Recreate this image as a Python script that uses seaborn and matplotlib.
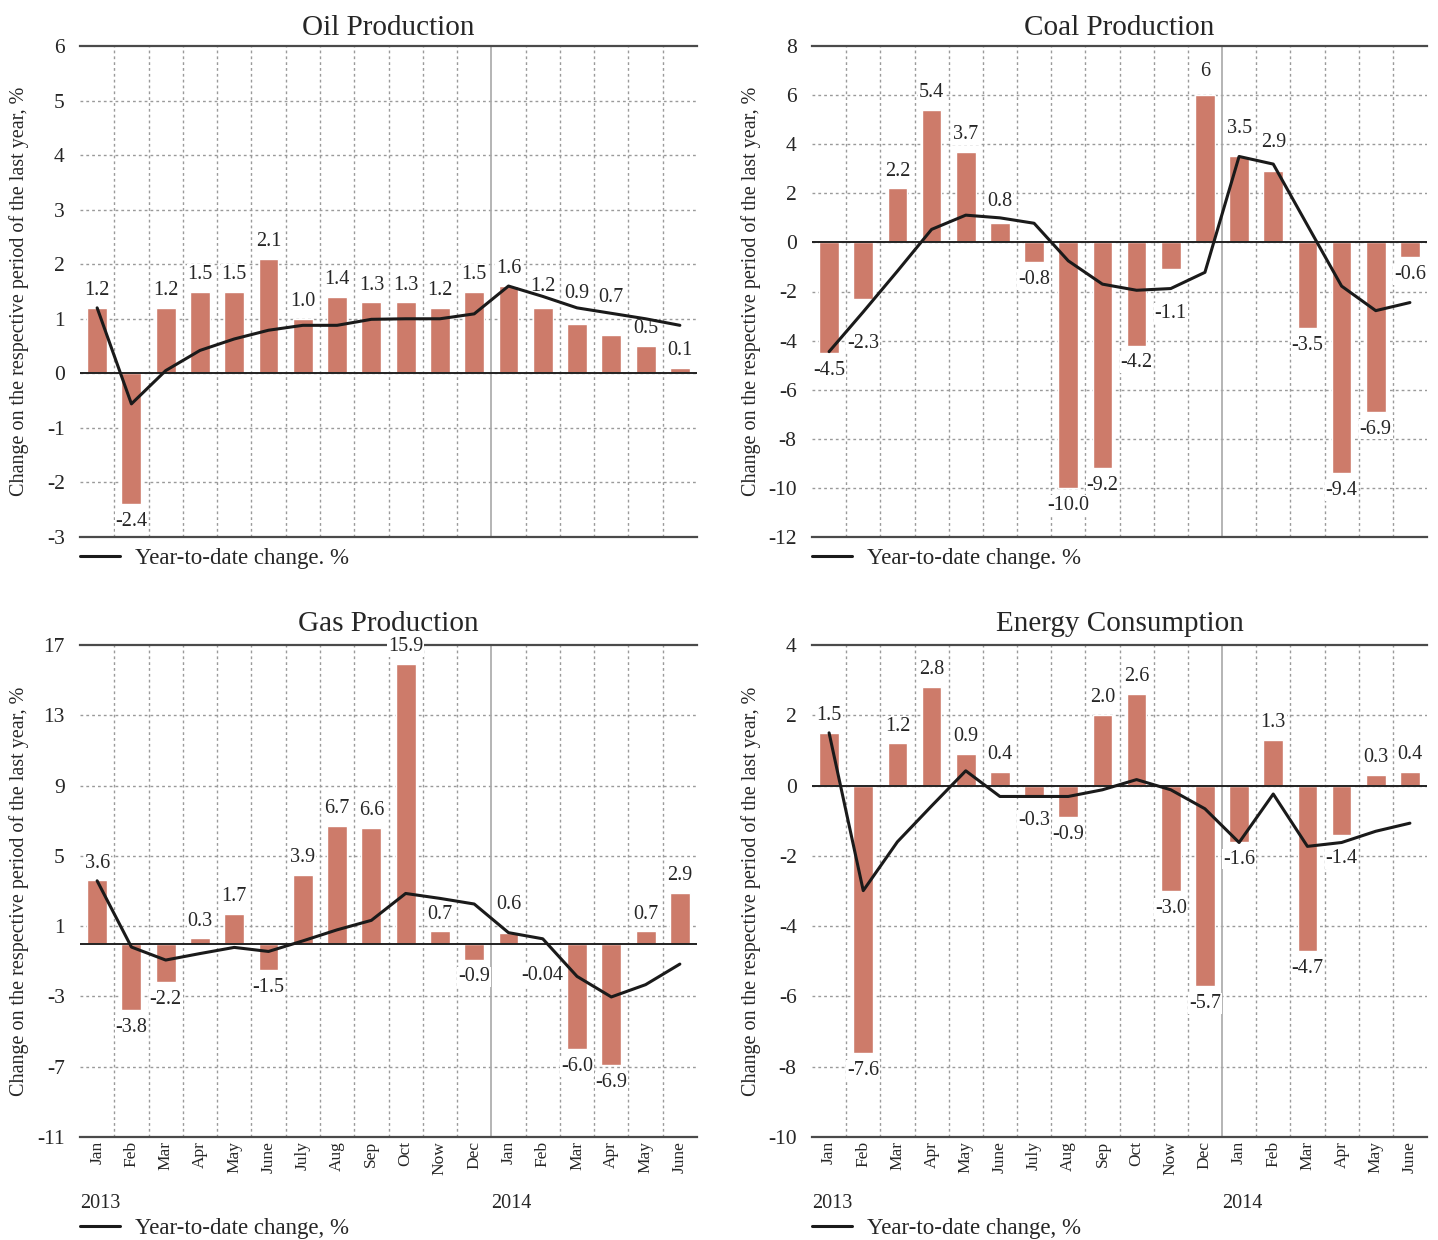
import numpy as np
import matplotlib
matplotlib.use("Agg")
import matplotlib.pyplot as plt
import matplotlib.transforms as mtransforms
import seaborn as sns

sns.set_theme(style="white")
plt.rcParams['font.family'] = ['Liberation Serif', 'DejaVu Serif']

months = ['Jan', 'Feb', 'Mar', 'Apr', 'May', 'June', 'July', 'Aug', 'Sep', 'Oct', 'Now', 'Dec',
          'Jan', 'Feb', 'Mar', 'Apr', 'May', 'June']

oil_bars = [1.2, -2.4, 1.2, 1.5, 1.5, 2.1, 1.0, 1.4, 1.3, 1.3, 1.2, 1.5, 1.6, 1.2, 0.9, 0.7, 0.5, 0.1]
oil_ytd = [1.2, -0.56, 0.05, 0.42, 0.63, 0.79, 0.88, 0.88, 0.99, 1.0, 1.0, 1.09, 1.6, 1.41, 1.2, 1.1, 1.0, 0.88]

coal_bars = [-4.5, -2.3, 2.2, 5.4, 3.7, 0.8, -0.8, -10.0, -9.2, -4.2, -1.1, 6, 3.5, 2.9, -3.5, -9.4, -6.9, -0.6]
coal_ytd = [-4.45, -2.83, -1.17, 0.53, 1.11, 1.0, 0.78, -0.75, -1.7, -1.95, -1.88, -1.22, 3.5, 3.19, 0.7, -1.78, -2.78, -2.45]

gas_bars = [3.6, -3.8, -2.2, 0.3, 1.7, -1.5, 3.9, 6.7, 6.6, 15.9, 0.7, -0.9, 0.6, -0.04, -6.0, -6.9, 0.7, 2.9]
gas_ytd = [3.58, -0.19, -0.93, -0.56, -0.21, -0.44, 0.16, 0.79, 1.33, 2.86, 2.58, 2.26, 0.63, 0.28, -1.86, -3.03, -2.33, -1.16]

energy_bars = [1.5, -7.6, 1.2, 2.8, 0.9, 0.4, -0.3, -0.9, 2.0, 2.6, -3.0, -5.7, -1.6, 1.3, -4.7, -1.4, 0.3, 0.4]
energy_ytd = [1.5, -2.99, -1.6, -0.58, 0.42, -0.31, -0.31, -0.31, -0.12, 0.17, -0.12, -0.66, -1.62, -0.24, -1.73, -1.62, -1.3, -1.07]

bar_labels = {
    'oil': ['1.2', '-2.4', '1.2', '1.5', '1.5', '2.1', '1.0', '1.4', '1.3', '1.3', '1.2', '1.5',
            '1.6', '1.2', '0.9', '0.7', '0.5', '0.1'],
    'coal': ['-4.5', '-2.3', '2.2', '5.4', '3.7', '0.8', '-0.8', '-10.0', '-9.2', '-4.2', '-1.1', '6',
             '3.5', '2.9', '-3.5', '-9.4', '-6.9', '-0.6'],
    'gas': ['3.6', '-3.8', '-2.2', '0.3', '1.7', '-1.5', '3.9', '6.7', '6.6', '15.9', '0.7', '-0.9',
            '0.6', '-0.04', '-6.0', '-6.9', '0.7', '2.9'],
    'energy': ['1.5', '-7.6', '1.2', '2.8', '0.9', '0.4', '-0.3', '-0.9', '2.0', '2.6', '-3.0', '-5.7',
               '-1.6', '1.3', '-4.7', '-1.4', '0.3', '0.4'],
}

# labels that were moved off the bar end to dodge the line (data units, label centre)
label_moves = {
    'oil': {13: 1.6, 14: 1.46, 15: 1.39},
    'coal': {1: -4.1, 5: 1.68, 10: -2.9, 11: 6.95, 12: 4.65, 13: 4.05},
    'gas': {12: 2.26, 13: -1.82},
    'energy': {6: -0.98, 15: -2.08},
}

bar_color = '#cd7b6a'
grid_kw = dict(color='#9a9a9a', linestyle=(0, (2, 2.2)), linewidth=1.0, zorder=0)

fig = plt.figure(figsize=(14.38, 12.4), dpi=100)
W, H = 1438, 1240


def make_ax(x0, x1, y0, y1):
    return fig.add_axes([x0 / W, 1 - y1 / H, (x1 - x0) / W, (y1 - y0) / H])


panels = [
    ('oil', 'Oil Production', oil_bars, oil_ytd, (-3, 6), np.arange(-3, 7, 1), (80, 697, 46, 537), False, '.'),
    ('coal', 'Coal Production', coal_bars, coal_ytd, (-12, 8), np.arange(-12, 9, 2), (812, 1427, 46, 537), False, '.'),
    ('gas', 'Gas Production', gas_bars, gas_ytd, (-11, 17), np.arange(-11, 18, 4), (80, 697, 645, 1137), True, ','),
    ('energy', 'Energy Consumption', energy_bars, energy_ytd, (-10, 4), np.arange(-10, 5, 2), (812, 1427, 645, 1137), True, ','),
]

for key, title, bars, ytd, ylim, yticks, box, bottom_row, sep in panels:
    ax = make_ax(*box)
    x = np.arange(len(bars))
    sns.barplot(x=x, y=bars, color=bar_color, width=0.58, saturation=1, ax=ax, zorder=2)
    sns.lineplot(x=x, y=ytd, color='#1a1a1a', linewidth=2.2, ax=ax, zorder=6,
                 label='Year-to-date change' + sep + ' %')
    ax.set_xlim(-0.5, len(bars) - 0.5)
    ax.set_ylim(*ylim)
    ax.set_yticks(yticks)
    ax.set_yticklabels([str(int(v)) for v in yticks], fontsize=15.5)
    ax.tick_params(axis='y', length=0, pad=11)

    # grid
    for v in yticks:
        if v not in ylim:
            ax.axhline(v, **grid_kw)
    for b in np.arange(0.5, len(bars) - 1, 1.0):
        if abs(b - 11.5) < 1e-6:
            ax.axvline(b, color='#a8a8a8', linewidth=1.2, zorder=1)
        else:
            ax.axvline(b, **grid_kw)
    ax.axhline(0, color='#222222', linewidth=1.4, zorder=3)

    for s in ['left', 'right']:
        ax.spines[s].set_visible(False)
    for s in ['top', 'bottom']:
        ax.spines[s].set_color('#4a4a4a')
        ax.spines[s].set_linewidth(1.6)

    # bar labels
    moves = label_moves[key]
    for i, (v, txt) in enumerate(zip(bars, bar_labels[key])):
        if i in moves:
            ax.annotate(txt, (i, moves[i]), ha='center', va='center', fontsize=14.5, zorder=5,
                        bbox=dict(facecolor='white', edgecolor='none', pad=0.6))
        else:
            off = 12.5 if v >= 0 else -12.5
            ax.annotate(txt, (i, v), xytext=(0, off), textcoords='offset points',
                        ha='center', va='center', fontsize=14.5, zorder=5,
                        bbox=dict(facecolor='white', edgecolor='none', pad=0.6))

    ax.set_title(title, fontsize=21, pad=10 if bottom_row else 8)
    ax.set_ylabel('Change on the respective period of the last year, %', fontsize=14.5)
    ax.yaxis.set_label_coords(-51 / (box[1] - box[0]), 0.5)
    ax.set_xlabel('')

    if bottom_row:
        ax.set_xticks(x)
        ax.set_xticklabels(months, rotation=90, fontsize=12.5)
        ax.tick_params(axis='x', length=0, pad=3)
        trans = mtransforms.blended_transform_factory(ax.transData, ax.transAxes)
        hy = box[3] - box[2]
        ax.text(-0.5, -(1203 - box[3]) / hy, '2013', transform=trans, ha='left', va='center', fontsize=14.5)
        ax.text(11.5, -(1203 - box[3]) / hy, '2014', transform=trans, ha='left', va='center', fontsize=14.5)
        leg_y = -(1228 - box[3]) / hy
    else:
        ax.set_xticks([])
        leg_y = -(558 - box[3]) / (box[3] - box[2])

    ax.legend(loc='center left', bbox_to_anchor=(0, leg_y), frameon=False, fontsize=16.5,
              borderpad=0, borderaxespad=0, handlelength=1.75, handletextpad=0.65)

fig.savefig('out.png', dpi=100)
